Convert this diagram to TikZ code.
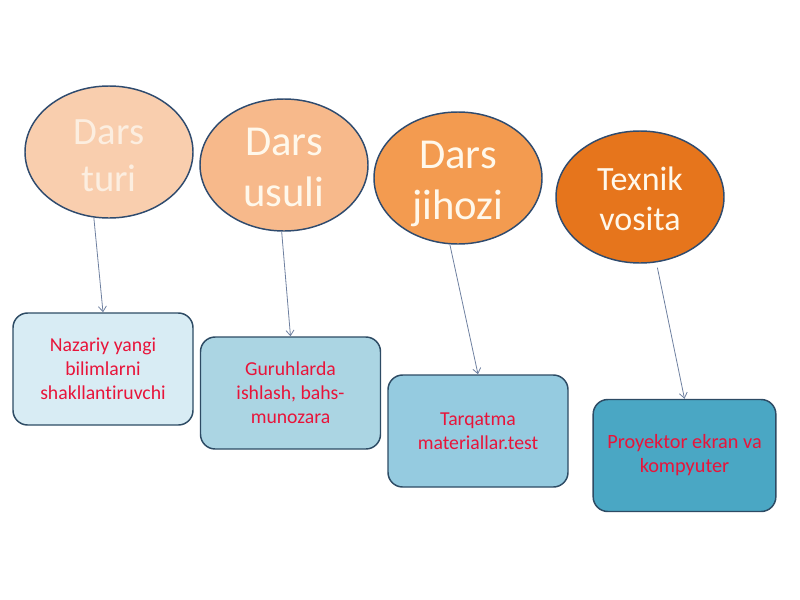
\documentclass[tikz,border=0pt]{standalone}
\usepackage{fontspec}
\setmainfont{Carlito}[Ligatures=NoCommon]
\usetikzlibrary{shapes.geometric,arrows.meta}
\definecolor{eborder}{RGB}{47,75,110}
\definecolor{rborder}{RGB}{45,75,100}
\definecolor{eA}{RGB}{249,206,174}
\definecolor{eB}{RGB}{247,185,139}
\definecolor{eC}{RGB}{243,155,80}
\definecolor{eD}{RGB}{230,117,28}
\definecolor{rA}{RGB}{216,236,244}
\definecolor{rB}{RGB}{171,213,227}
\definecolor{rC}{RGB}{149,203,224}
\definecolor{rD}{RGB}{74,167,196}
\definecolor{rtext}{RGB}{232,20,58}
\definecolor{arrc}{RGB}{110,128,160}
\definecolor{etextA}{RGB}{252,238,224}
\definecolor{etext}{RGB}{255,248,235}
\tikzset{
  ell/.style={ellipse, draw=eborder, line width=1.1pt, minimum width=126pt, minimum height=99pt, inner sep=0pt},
  etxt/.style={inner sep=0pt, align=center},
  rbox/.style={rectangle, rounded corners=11pt, draw=rborder, line width=1.1pt, minimum width=135pt, minimum height=84pt, inner sep=0pt, align=center, text=rtext, font=\fontsize{14.8}{18}\selectfont},
  arr/.style={draw=arrc, line width=0.6pt, -{Straight Barb[length=4pt,width=6pt]}}
}
\begin{document}
\begin{tikzpicture}[x=0.75pt,y=-0.75pt]
\useasboundingbox (0,0) rectangle (800,600);
\node[ell, fill=eA] (e1) at (109,152) {};
\node[ell, fill=eB] (e2) at (284,165) {};
\node[ell, fill=eC] (e3) at (458,178) {};
\node[ell, fill=eD] (e4) at (640,197) {};
\node[etxt, text=etextA, font=\fontsize{29}{35}\selectfont] (t1) at ([yshift=-3pt]e1.center) {Dars\\turi};
\node[etxt, text=etext, font=\fontsize{32}{38}\selectfont] (t2) at ([yshift=-2pt]e2.center) {Dars\\usuli};
\node[etxt, text=etext, font=\fontsize{32}{38}\selectfont] (t3) at ([yshift=-4.5pt]e3.center) {Dars\\jihozi};
\node[etxt, text=etext, font=\fontsize{25.5}{30}\selectfont] (t4) at ([yshift=-1.5pt]e4.center) {Texnik\\vosita};
\node[rbox, fill=rA] (r1) at (103,369) {Nazariy yangi\\bilimlarni\\shakllantiruvchi};
\node[rbox, fill=rB] (r2) at (290.5,393) {Guruhlarda\\ishlash, bahs-\\munozara};
\node[rbox, fill=rC] (r3) at (478,431) {Tarqatma\\materiallar.test};
\node[rbox, fill=rD, minimum width=137pt, font=\fontsize{15.2}{18}\selectfont] (r4) at (684.5,455.5) {Proyektor ekran va\\kompyuter};
\draw[arr] (e1.257) -- (r1.north);
\draw[arr] (e2.268) -- (r2.north);
\draw[arr] (e3.263) -- (r3.north);
\draw[arr, shorten <=4pt] (e4.284) -- (r4.north);
\end{tikzpicture}
\end{document}
